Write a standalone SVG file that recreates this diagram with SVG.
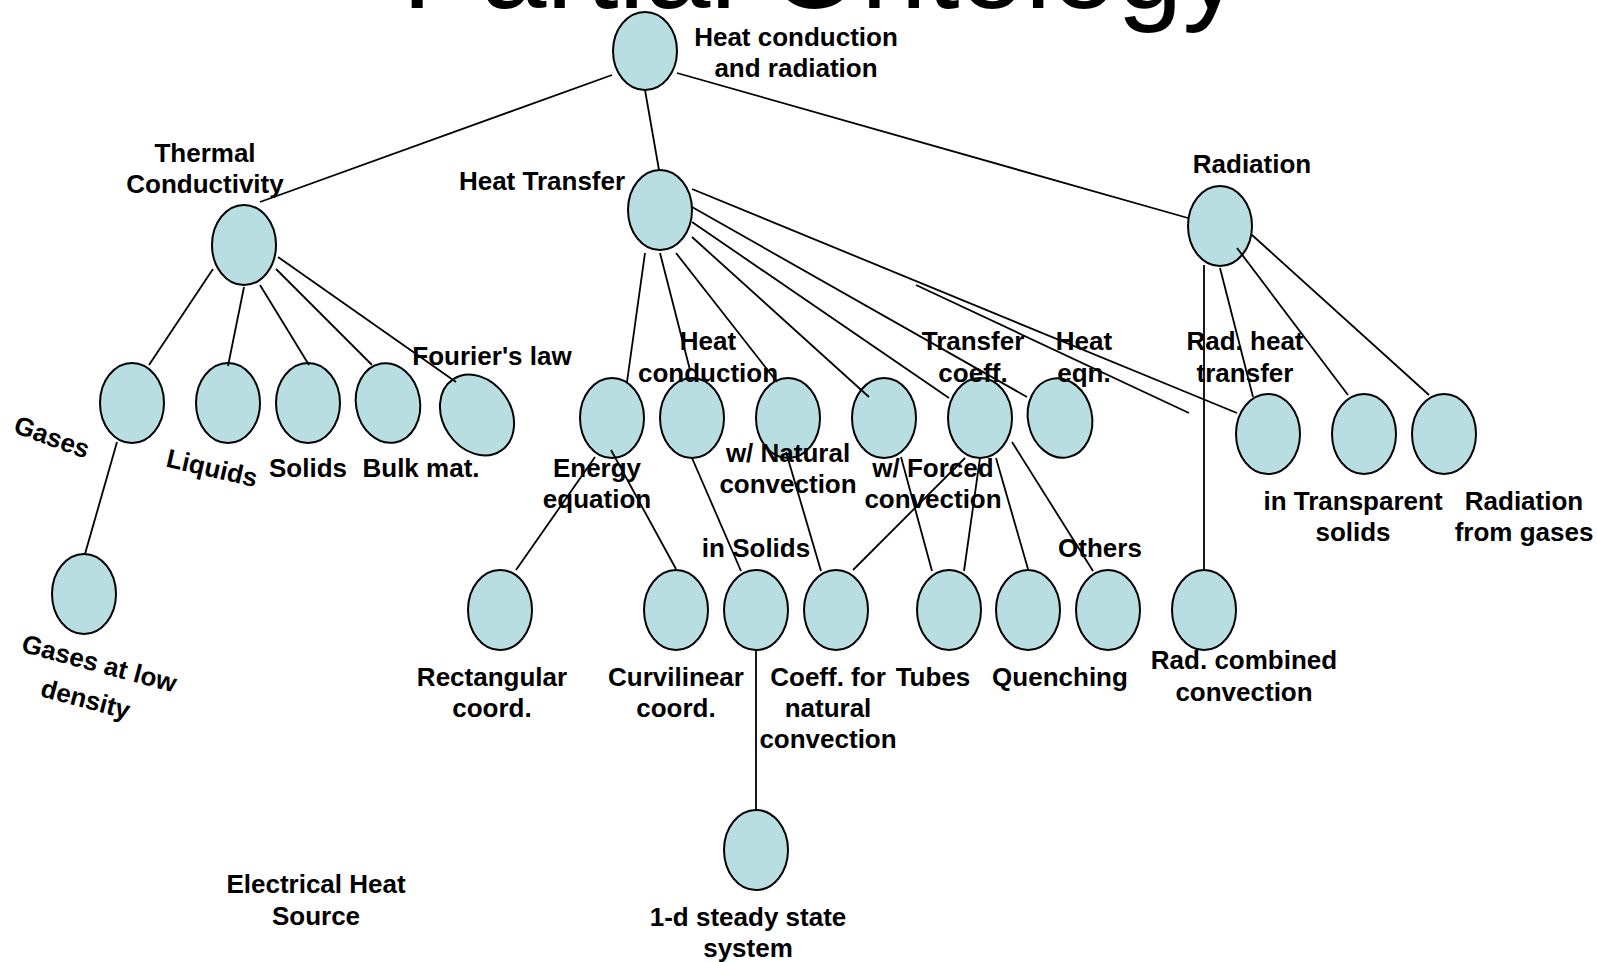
<svg xmlns="http://www.w3.org/2000/svg" width="1597" height="962" viewBox="0 0 1597 962">
  <style>
    .n { fill: #B8DEE1; stroke: #000; stroke-width: 2; }
    .t { font-family: "Liberation Sans", Arial, sans-serif; font-weight: bold; font-size: 26px; text-anchor: middle; fill: #000; }
    .title { font-family: "Liberation Sans", Arial, sans-serif; font-size: 118px; fill: #000; }
    #links line { stroke: #000; stroke-width: 1.8; }
  </style>
  <rect width="1597" height="962" fill="#fff"/>

  <text class="title" x="402" y="8">Partial Ontology</text>

  <!-- top level -->
  <g id="root">
    <ellipse class="n" cx="645" cy="51" rx="32" ry="39"/>
    <text class="t" x="796" y="46">Heat conduction</text>
    <text class="t" x="796" y="77">and radiation</text>
  </g>
  <g id="thermal-conductivity">
    <ellipse class="n" cx="244" cy="245" rx="32" ry="40"/>
    <text class="t" x="205" y="162">Thermal</text>
    <text class="t" x="205" y="193">Conductivity</text>
  </g>
  <g id="heat-transfer">
    <ellipse class="n" cx="660" cy="210" rx="32" ry="40"/>
    <text class="t" x="542" y="190">Heat Transfer</text>
  </g>
  <g id="radiation">
    <ellipse class="n" cx="1220" cy="226" rx="32" ry="40"/>
    <text class="t" x="1252" y="173">Radiation</text>
  </g>

  <!-- thermal conductivity branch -->
  <g id="gases">
    <ellipse class="n" cx="132" cy="403" rx="32" ry="40"/>
    <text class="t" transform="translate(52,437) rotate(20)" x="0" y="9">Gases</text>
  </g>
  <g id="liquids">
    <ellipse class="n" cx="228" cy="403" rx="32" ry="40"/>
    <text class="t" transform="translate(212,468) rotate(13)" x="0" y="9">Liquids</text>
  </g>
  <g id="solids">
    <ellipse class="n" cx="308" cy="403" rx="32" ry="40"/>
    <text class="t" x="308" y="477">Solids</text>
  </g>
  <g id="bulk-mat">
    <ellipse class="n" cx="388" cy="403" rx="32" ry="40" transform="rotate(-10 388 403)"/>
    <text class="t" x="421" y="477">Bulk mat.</text>
  </g>
  <g id="fouriers-law">
    <ellipse class="n" cx="477" cy="415" rx="34" ry="43" transform="rotate(-34 477 415)"/>
    <text class="t" x="492" y="365">Fourier's law</text>
  </g>
  <g id="gases-low-density">
    <ellipse class="n" cx="84" cy="594" rx="32" ry="40"/>
    <g transform="translate(97,672) rotate(15)">
      <text class="t" x="0" y="0">Gases at low</text>
      <text class="t" x="-4" y="38">density</text>
    </g>
  </g>

  <!-- heat transfer branch -->
  <g id="energy-equation">
    <ellipse class="n" cx="612" cy="418" rx="32" ry="40"/>
    <text class="t" x="597" y="477">Energy</text>
    <text class="t" x="597" y="508">equation</text>
  </g>
  <g id="heat-conduction">
    <ellipse class="n" cx="692" cy="418" rx="32" ry="40"/>
    <text class="t" x="708" y="350">Heat</text>
    <text class="t" x="708" y="382">conduction</text>
  </g>
  <g id="natural-convection">
    <ellipse class="n" cx="788" cy="418" rx="32" ry="40"/>
    <text class="t" x="788" y="462">w/ Natural</text>
    <text class="t" x="788" y="493">convection</text>
  </g>
  <g id="forced-convection">
    <ellipse class="n" cx="884" cy="418" rx="32" ry="40"/>
    <text class="t" x="933" y="477">w/ Forced</text>
    <text class="t" x="933" y="508">convection</text>
  </g>
  <g id="transfer-coeff">
    <ellipse class="n" cx="980" cy="418" rx="32" ry="40"/>
    <text class="t" x="973" y="350">Transfer</text>
    <text class="t" x="973" y="382">coeff.</text>
  </g>
  <g id="heat-eqn">
    <ellipse class="n" cx="1060" cy="418" rx="32" ry="40" transform="rotate(-12 1060 418)"/>
    <text class="t" x="1084" y="350">Heat</text>
    <text class="t" x="1084" y="382">eqn.</text>
  </g>

  <!-- radiation branch -->
  <g id="rad-heat-transfer">
    <ellipse class="n" cx="1268" cy="434" rx="32" ry="40"/>
    <text class="t" x="1245" y="350">Rad. heat</text>
    <text class="t" x="1245" y="382">transfer</text>
  </g>
  <g id="transparent-solids">
    <ellipse class="n" cx="1364" cy="434" rx="32" ry="40"/>
    <text class="t" x="1353" y="510">in Transparent</text>
    <text class="t" x="1353" y="541">solids</text>
  </g>
  <g id="radiation-from-gases">
    <ellipse class="n" cx="1444" cy="434" rx="32" ry="40"/>
    <text class="t" x="1524" y="510">Radiation</text>
    <text class="t" x="1524" y="541">from gases</text>
  </g>

  <!-- lower row -->
  <g id="rectangular-coord">
    <ellipse class="n" cx="500" cy="610" rx="32" ry="40"/>
    <text class="t" x="492" y="686">Rectangular</text>
    <text class="t" x="492" y="717">coord.</text>
  </g>
  <g id="curvilinear-coord">
    <ellipse class="n" cx="676" cy="610" rx="32" ry="40"/>
    <text class="t" x="676" y="686">Curvilinear</text>
    <text class="t" x="676" y="717">coord.</text>
  </g>
  <g id="in-solids">
    <ellipse class="n" cx="756" cy="610" rx="32" ry="40"/>
    <text class="t" x="756" y="557">in Solids</text>
  </g>
  <g id="coeff-natural">
    <ellipse class="n" cx="836" cy="610" rx="32" ry="40"/>
    <text class="t" x="828" y="686">Coeff. for</text>
    <text class="t" x="828" y="717">natural</text>
    <text class="t" x="828" y="748">convection</text>
  </g>
  <g id="tubes">
    <ellipse class="n" cx="949" cy="610" rx="32" ry="40"/>
    <text class="t" x="933" y="686">Tubes</text>
  </g>
  <g id="quenching">
    <ellipse class="n" cx="1028" cy="610" rx="32" ry="40"/>
    <text class="t" x="1060" y="686">Quenching</text>
  </g>
  <g id="others">
    <ellipse class="n" cx="1108" cy="610" rx="32" ry="40"/>
    <text class="t" x="1100" y="557">Others</text>
  </g>
  <g id="rad-combined-convection">
    <ellipse class="n" cx="1204" cy="610" rx="32" ry="40"/>
    <text class="t" x="1244" y="669">Rad. combined</text>
    <text class="t" x="1244" y="701">convection</text>
  </g>
  <g id="steady-state">
    <ellipse class="n" cx="756" cy="850" rx="32" ry="40"/>
    <text class="t" x="748" y="926">1-d steady state</text>
    <text class="t" x="748" y="957">system</text>
  </g>
  <g id="electrical-heat-source">
    <text class="t" x="316" y="893">Electrical Heat</text>
    <text class="t" x="316" y="925">Source</text>
  </g>

  <!-- connectors -->
  <g id="links">
    <line x1="612" y1="75" x2="260" y2="202"/>
    <line x1="645" y1="90" x2="659" y2="170"/>
    <line x1="677" y1="73" x2="1188" y2="218"/>

    <line x1="213" y1="269" x2="149" y2="365"/>
    <line x1="244" y1="287" x2="228" y2="366"/>
    <line x1="260" y1="285" x2="309" y2="365"/>
    <line x1="276" y1="269" x2="372" y2="365"/>
    <line x1="278" y1="257" x2="456" y2="382"/>
    <line x1="117" y1="442" x2="85" y2="554"/>

    <line x1="645" y1="253" x2="627" y2="382"/>
    <line x1="660" y1="253" x2="690" y2="370"/>
    <line x1="676" y1="253" x2="777" y2="382"/>
    <line x1="692" y1="237" x2="869" y2="397"/>
    <line x1="692" y1="222" x2="949" y2="398"/>
    <line x1="692" y1="207" x2="1027" y2="397"/>
    <line x1="692" y1="189" x2="1237" y2="413"/>
    <line x1="916" y1="285" x2="1189" y2="413"/>

    <line x1="1204" y1="265" x2="1204" y2="570"/>
    <line x1="1220" y1="268" x2="1253" y2="397"/>
    <line x1="1237" y1="248" x2="1348" y2="395"/>
    <line x1="1252" y1="235" x2="1429" y2="395"/>

    <line x1="595" y1="457" x2="516" y2="570"/>
    <line x1="611" y1="450" x2="676" y2="569"/>
    <line x1="692" y1="458" x2="741" y2="571"/>
    <line x1="786" y1="452" x2="821" y2="571"/>
    <line x1="965" y1="458" x2="853" y2="570"/>
    <line x1="901" y1="457" x2="932" y2="571"/>
    <line x1="980" y1="458" x2="964" y2="571"/>
    <line x1="996" y1="458" x2="1028" y2="569"/>
    <line x1="1012" y1="442" x2="1093" y2="571"/>
    <line x1="756" y1="650" x2="756" y2="810"/>
  </g>
</svg>
